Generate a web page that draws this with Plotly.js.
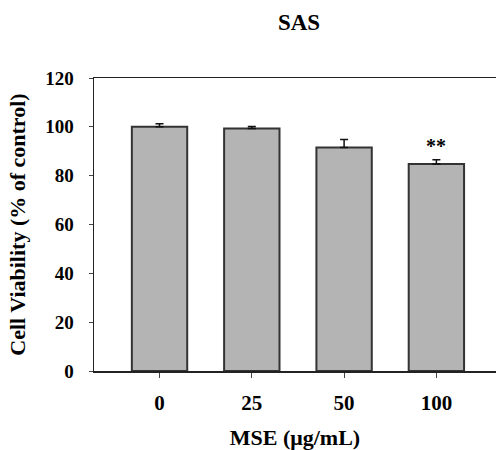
<!DOCTYPE html>
<html>
<head>
<meta charset="utf-8">
<script src="https://cdn.plot.ly/plotly-3.0.1.min.js"></script>
<style>html,body{margin:0;padding:0;overflow:hidden;background:#fff}</style>
</head>
<body>
<div id="chart" style="width:496px;height:450px"></div>
<script>
const categories = ['0', '25', '50', '100'];
const viability = [100, 99.3, 91.5, 84.8];
const errors = [1.3, 0.8, 3.3, 1.7];
const significance = ['', '', '', '**'];
const yTicks = [0, 20, 40, 60, 80, 100, 120];

const serif = 'Liberation Serif, Times New Roman, serif';

const annotations = [];
categories.forEach((c, i) => {
  if (significance[i]) {
    annotations.push({
      x: i, y: viability[i] + errors[i] + 5.5, xref: 'x', yref: 'y',
      text: significance[i], showarrow: false,
      yanchor: 'middle', font: {family: serif, size: 20, color: '#000', weight: 'bold'}
    });
  }
});

const trace = {
  type: 'bar',
  x: categories,
  y: viability,
  width: 0.6,
  marker: {color: '#b4b4b4', line: {color: '#333333', width: 2}},
  error_y: {type: 'data', symmetric: false, array: errors, arrayminus: errors.map(() => 0),
            color: '#111', thickness: 1.5, width: 4}
};

const layout = {
  width: 496, height: 450,
  margin: {l: 94, r: 0, t: 78, b: 79},
  paper_bgcolor: '#fff', plot_bgcolor: '#fff',
  showlegend: false,
  font: {family: serif, color: '#000'},
  title: {text: 'SAS', font: {family: serif, size: 23, color: '#000', weight: 'bold'},
          xref: 'paper', x: 0.51, xanchor: 'center', yref: 'container', y: 0.952, yanchor: 'middle'},
  xaxis: {
    type: 'category', range: [-0.71, 3.646],
    showline: true, linecolor: '#222', linewidth: 1.5, mirror: true,
    ticks: 'outside', ticklen: 5, tickwidth: 1, tickcolor: '#444',
    tickfont: {family: serif, size: 21, color: '#000', weight: 'bold'},
    ticklabelstandoff: 7,
    showgrid: false, zeroline: false,
    title: {text: 'MSE (μg/mL)', font: {family: serif, size: 22, color: '#000', weight: 'bold'}, standoff: 20}
  },
  yaxis: {
    range: [0, 120], tickvals: yTicks,
    showline: true, linecolor: '#222', linewidth: 1.5,
    ticks: 'outside', ticklen: 4, tickwidth: 1, tickcolor: '#444',
    tickfont: {family: serif, size: 19, color: '#000', weight: 'bold'},
    ticklabelstandoff: 11,
    showgrid: false, zeroline: false,
    title: {text: 'Cell Viability (% of control)', font: {family: serif, size: 22, color: '#000', weight: 'bold'}, standoff: 13}
  },
  annotations: annotations
};

Plotly.newPlot('chart', [trace], layout, {displayModeBar: false, staticPlot: true});
</script>
</body>
</html>
